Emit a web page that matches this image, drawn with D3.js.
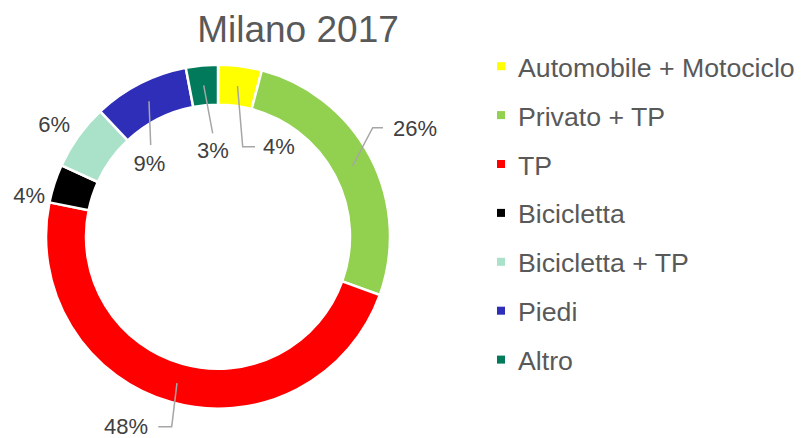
<!DOCTYPE html>
<html>
<head>
<meta charset="utf-8">
<script src="https://cdn.jsdelivr.net/npm/d3@7"></script>
<style>
  body { margin: 0; background: #fff; }
  text { font-family: "Liberation Sans", Arial, sans-serif; }
</style>
</head>
<body>
<div id="chart"></div>
<script>
// data
var categories = ["Automobile + Motociclo", "Privato + TP", "TP", "Bicicletta", "Bicicletta + TP", "Piedi", "Altro"];
var shares = [4.1, 26.4, 47.7, 3.6, 6.2, 9.0, 3.0];
var shareLabels = ["4%", "26%", "48%", "4%", "6%", "9%", "3%"];
var colors = ["#ffff00", "#92d050", "#ff0000", "#000000", "#a9e2c9", "#2e2eb8", "#007a5a"];

// where each label sits, relative to the ring centre (layout only)
var labelLayout = [
  { tx: 45, ty: -90, anchor: "start", elbow: [24.7, -90], end: [37, -90] },
  { tx: 175, ty: -108, anchor: "start", elbow: [154.7, -109], end: [165, -109] },
  { tx: -70, ty: 190, anchor: "end", elbow: [-46.3, 190], end: [-59.7, 190] },
  { tx: -173, ty: -41, anchor: "end" },
  { tx: -148, ty: -112, anchor: "end" },
  { tx: -68.5, ty: -73, anchor: "middle", elbow: [-67.3, -91.7] },
  { tx: -5, ty: -86, anchor: "middle", elbow: [-5.3, -103.4] }
];

var svgWidth = 802;
var svgHeight = 438;
var cx = 218, cy = 236.7;
var outerR = 172, innerR = 132;

var svg = d3.select("#chart")
  .append("svg")
  .attr("width", svgWidth)
  .attr("height", svgHeight);

// title
svg.append("text")
  .attr("x", 298)
  .attr("y", 42)
  .attr("text-anchor", "middle")
  .attr("fill", "#595959")
  .attr("font-size", "37px")
  .text("Milano 2017");

var pie = d3.pie().sort(null).value(d => d);
var arcs = pie(shares);

var arc = d3.arc().innerRadius(innerR).outerRadius(outerR);
var midArc = d3.arc().innerRadius(152).outerRadius(152);

var ring = svg.append("g")
  .attr("transform", `translate(${cx}, ${cy})`);

ring.selectAll("path.slice")
  .data(arcs)
  .enter()
  .append("path")
  .attr("class", "slice")
  .attr("d", arc)
  .attr("fill", (d, i) => colors[i])
  .attr("stroke", "#fff")
  .attr("stroke-width", 2.5);

// leader lines
ring.selectAll("path.leader")
  .data(arcs.filter((d, i) => labelLayout[i].elbow))
  .enter()
  .append("path")
  .attr("class", "leader")
  .attr("d", function(d) {
    var l = labelLayout[d.index];
    var p = midArc.centroid(d);
    var s = `M${p[0]},${p[1]}L${l.elbow[0]},${l.elbow[1]}`;
    if (l.end) s += `L${l.end[0]},${l.end[1]}`;
    return s;
  })
  .attr("fill", "none")
  .attr("stroke", "#a6a6a6")
  .attr("stroke-width", 1.5);

// percentage labels
ring.selectAll("text.pct")
  .data(arcs)
  .enter()
  .append("text")
  .attr("class", "pct")
  .attr("x", (d, i) => labelLayout[i].tx)
  .attr("y", (d, i) => labelLayout[i].ty)
  .attr("dy", "0.35em")
  .attr("text-anchor", (d, i) => labelLayout[i].anchor)
  .attr("fill", "#404040")
  .attr("font-size", "22px")
  .text((d, i) => shareLabels[i]);

// legend
var legend = svg.append("g")
  .attr("transform", "translate(497, 0)");

var rows = legend.selectAll("g.row")
  .data(categories)
  .enter()
  .append("g")
  .attr("class", "row")
  .attr("transform", (d, i) => `translate(0, ${76.7 + i * 48.9})`);

rows.append("rect")
  .attr("x", 0)
  .attr("y", -14.5)
  .attr("width", 8)
  .attr("height", 8)
  .attr("fill", (d, i) => colors[i]);

rows.append("text")
  .attr("x", 21)
  .attr("y", 0)
  .attr("fill", "#595959")
  .attr("font-size", "26.7px")
  .text(d => d);
</script>
</body>
</html>
